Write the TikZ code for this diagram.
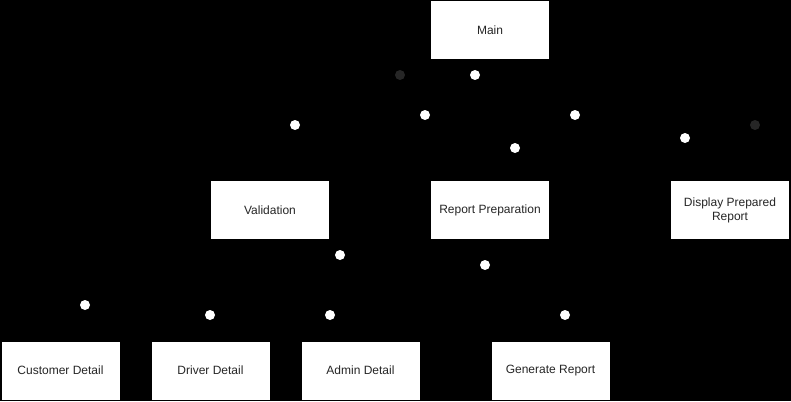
\documentclass[tikz,border=0pt]{standalone}
\usepackage{fontspec}
\setmainfont{Liberation Sans}
\tikzset{
  module/.style={draw=black, fill=white, minimum width=119pt, minimum height=59pt, inner sep=2pt,
    align=center, text=black!85, font=\fontsize{12}{14}\selectfont},
  call/.style={draw=black, ->, >=stealth},
  datadot/.style={fill=white},
  flagdot/.style={fill=black!85}
}
\begin{document}
\begin{tikzpicture}[x=1pt,y=-1pt]
    \fill[black] (0,0) rectangle (791,401);
    \useasboundingbox (0,0) rectangle (791,401);
    \node [module] (main) at (490,30) {Main};
    \node [module] (valid) at (270,210) {Validation};
    \node [module] (prep) at (490,210) {Report Preparation};
    \node [module] (disp) at (730,210) {Display Prepared\\Report};
    \node [module] (cust) at (60.5,370.5) {Customer Detail};
    \node [module] (drv) at (210.5,370.5) {Driver Detail};
    \node [module] (adm) at (360.5,370.5) {Admin Detail};
    \node [module] (gen) at (550.5,370.5) {Generate Report};
    \draw [call] (main) -- (valid);
    \draw [call] (main) -- (prep);
    \draw [call] (main) -- (disp);
    \draw [call] (valid) -- (cust);
    \draw [call] (valid) -- (drv);
    \draw [call] (valid) -- (adm);
    \draw [call] (prep) -- (gen);
    \foreach \p in {(475,75),(425,115),(295,125),(575,115),(515,148),(685,138),
                    (340,255),(485,265),(85,305),(210,315),(330,315),(565,315)}
      \fill [datadot] \p circle (5);
    \fill [flagdot] (400,75) circle (5);
    \fill [flagdot] (755,125) circle (5);
  \end{tikzpicture}
\end{document}
